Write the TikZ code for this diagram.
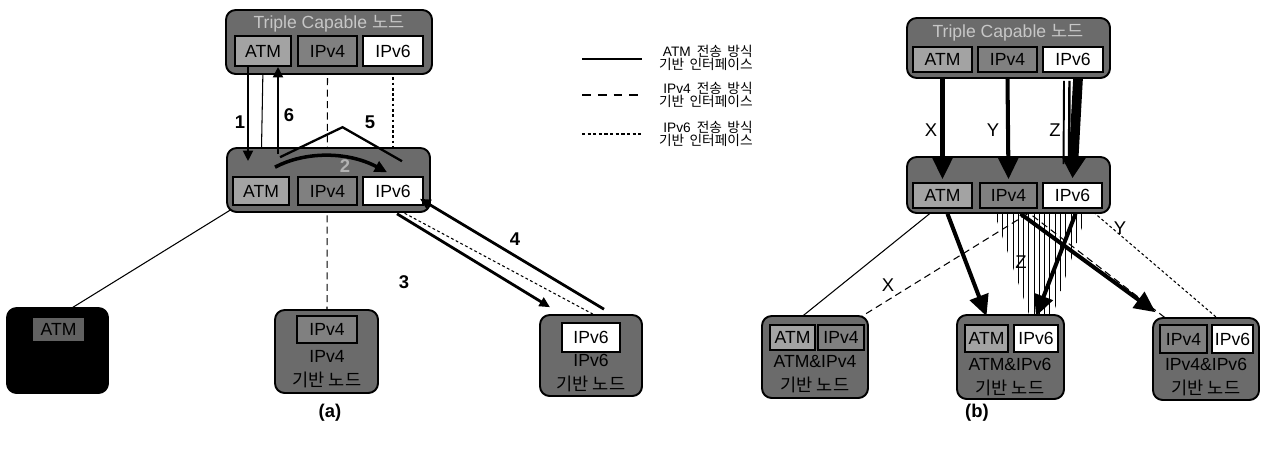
\documentclass[tikz,border=0pt]{standalone}
\usepackage{fontspec}
\setmainfont{Liberation Sans}
\newfontfamily\kr{Noto Sans CJK KR}
\usetikzlibrary{fit,calc,arrows.meta,patterns}
\pgfdeclarelayer{background}
\pgfsetlayers{background,main}
\begin{document}
\begin{tikzpicture}[x=0.02cm,y=-0.02cm,
  outer/.style={draw=black, line width=1.1pt, rounded corners=5.5pt, fill=black!58, inner sep=0pt},
  sub/.style={draw=black, line width=0.9pt, inner sep=0pt},
  atmf/.style={fill=black!36},
  vfourf/.style={fill=black!50},
  vsixf/.style={fill=white},
  txt/.style={font=\fontsize{10}{12}\selectfont, text=black, inner sep=0pt},
  ttl/.style={font=\fontsize{10}{12}\selectfont, text=black!22, inner sep=0pt},
  num/.style={font=\bfseries\fontsize{10.5}{12}\selectfont, inner sep=0pt},
  xyz/.style={font=\fontsize{10.5}{12}\selectfont, inner sep=0pt},
  leg/.style={font=\fontsize{7.8}{7.8}\selectfont, align=right, inner sep=0pt, anchor=east},
  atmif/.style={line width=0.6pt},
  vfourif/.style={line width=0.6pt, dash pattern=on 4pt off 2.5pt},
  vsixif/.style={line width=0.6pt, dash pattern=on 1.6pt off 1.4pt},
  arra/.style={line width=1.6pt, -{Triangle[length=6pt,width=5.5pt]}},
  arrb/.style={line width=2.3pt, -{Triangle[length=12pt,width=11pt]}},
  ]
\useasboundingbox (0,0) rectangle (1263,453);

% ---------------- panel (a) ----------------
\node[outer, fit={(226,10) (432,74)}] (a0) {};
\node[ttl] (a0t) at (329,24) {Triple Capable {\kr 노드}};
\node[sub, atmf, fit={(235,36) (291,66)}, label={[txt]center:ATM}] (a0atm) {};
\node[sub, vfourf, fit={(298,36) (357,66)}, label={[txt]center:IPv4}] (a0v4) {};
\node[sub, vsixf, fit={(363,36) (423,66)}, label={[txt]center:IPv6}] (a0v6) {};

\node[outer, fit={(227,148) (430,212)}] (a1) {};
\node[sub, atmf, fit={(233,177) (289,205)}, label={[txt]center:ATM}] (a1atm) {};
\node[sub, vfourf, fit={(298,177) (357,205)}, label={[txt]center:IPv4}] (a1v4) {};
\node[sub, vsixf, fit={(363,177) (423,205)}, label={[txt]center:IPv6}] (a1v6) {};

\node[outer, fill=black, fit={(7,308) (108,393)}] (aL) {};
\node[sub, fill=black!62, fit={(32,317) (85,342)}, label={[txt]center:ATM}] (aLatm) {};
\node[txt, text=black, align=center] (aLt) at (57,369) {ATM\\[2pt]{\kr 기반 노드}};

\node[outer, fit={(275,310) (378,393)}] (aM) {};
\node[sub, vfourf, fit={(297,316) (357,343)}, label={[txt]center:IPv4}] (aMv4) {};
\node[txt, align=center] (aMt) at (327,369) {IPv4\\[2pt]{\kr 기반 노드}};

\node[outer, fit={(540,315) (642,396)}] (aR) {};
\node[sub, vsixf, fit={(562,323) (620,352)}, label={[txt]center:IPv6}] (aRv6) {};
\node[txt, align=center] (aRt) at (591,373) {IPv6\\[2pt]{\kr 기반 노드}};

\begin{pgfonlayer}{background}
  \draw[atmif] (a0atm.south) -- (a1atm.north);
  \draw[vfourif] (a0v4.south) -- (aMv4.north);
  \draw[vsixif] (a0v6.south) -- (a1v6.north);
  \draw[atmif] ($(a1atm.south west)+(5,0)$) -- (aLatm.north);
  \draw[vsixif] ($(a1v6.south)+(7,5)$) -- ($(aRv6.north)+(4,-7)$);
\end{pgfonlayer}

\draw[arra] ($(a0atm.south)+(-15,0)$) -- ($(a1atm.north)+(-13,-15)$);
\draw[arra] ($(a1atm.north)+(17,-22)$) -- ($(a0atm.south)+(15,0)$);
\draw[line width=1.3pt] ($(a1atm.north)+(19,-19)$) -- ($(a1v4.north)+(15,-49)$) -- ($(a1v6.north)+(9,-15)$);
\draw[line width=2pt, -{Triangle[length=7pt,width=6.5pt]}] ($(a1atm.north)+(14,-9)$) .. controls ($(a1atm.north)+(44,-25)$) and ($(a1v4.north)+(20,-25)$) .. ($(a1v6.north)+(-6,-4)$);
\draw[arra] ($(a1v6.south)+(4,8)$) -- ($(aRv6.north)+(-41,-15)$);
\draw[arra] ($(aRv6.north)+(13,-13)$) -- ($(a1v6.south)+(27,-7)$);

\node[num] (n1) at (240,122) {1};
\node[num] (n6) at (289,115) {6};
\node[num] (n5) at (370,122) {5};
\node[num, text=black!30] (n2) at (345,166) {2};
\node[num] (n3) at (404,282) {3};
\node[num] (n4) at (515,239) {4};

% ---------------- legend ----------------
\coordinate (l1a) at (582,59); \coordinate (l1b) at (642,59);
\coordinate (l2a) at (582,95); \coordinate (l2b) at (642,95);
\coordinate (l3a) at (582,134); \coordinate (l3b) at (642,134);
\draw[line width=1.6pt] (l1a) -- (l1b);
\draw[line width=1.6pt, dash pattern=on 5pt off 4pt] (l2a) -- (l2b);
\draw[line width=0.7pt, dash pattern=on 1.8pt off 1.4pt] (l3a) -- (l3b);
\node[leg] (lt1) at (753,58) {ATM\, {\kr 전송\, 방식}\\{\kr 기반\, 인터페이스}};
\node[leg] (lt2) at (753,95) {IPv4\, {\kr 전송\, 방식}\\{\kr 기반\, 인터페이스}};
\node[leg] (lt3) at (753,134) {IPv6\, {\kr 전송\, 방식}\\{\kr 기반\, 인터페이스}};

% ---------------- panel (b) ----------------
\node[outer, fit={(907,18) (1110,78)}] (b0) {};
\node[ttl] (b0t) at (1008,33) {Triple Capable {\kr 노드}};
\node[sub, atmf, fit={(913,47) (972,72)}, label={[txt]center:ATM}] (b0atm) {};
\node[sub, vfourf, fit={(978,47) (1037,72)}, label={[txt]center:IPv4}] (b0v4) {};
\node[sub, vsixf, fit={(1043,47) (1103,72)}, label={[txt]center:IPv6}] (b0v6) {};

\node[outer, fit={(907,157) (1110,213)}] (b1) {};
\node[sub, atmf, fit={(913,183) (972,208)}, label={[txt]center:ATM}] (b1atm) {};
\node[sub, vfourf, fit={(980,183) (1037,208)}, label={[txt]center:IPv4}] (b1v4) {};
\node[sub, vsixf, fit={(1043,183) (1102,208)}, label={[txt]center:IPv6}] (b1v6) {};

\node[outer, fit={(762,316) (868,398)}] (bL) {};
\node[sub, atmf, fit={(770,325) (815,350)}, label={[txt]center:ATM}] (bLatm) {};
\node[sub, vfourf, fit={(818,325) (864,350)}, label={[txt]center:IPv4}] (bLv4) {};
\node[txt, align=center] (bLt) at (815,374) {ATM\&IPv4\\[2pt]{\kr 기반 노드}};

\node[outer, fit={(957,315) (1064,399)}] (bM) {};
\node[sub, atmf, fit={(965,325) (1008,352)}, label={[txt]center:ATM}] (bMatm) {};
\node[sub, vsixf, fit={(1014,325) (1058,352)}, label={[txt]center:IPv6}] (bMv6) {};
\node[txt, align=center] (bMt) at (1010,377) {ATM\&IPv6\\[2pt]{\kr 기반 노드}};

\node[outer, fit={(1153,318) (1259,400)}] (bR) {};
\node[sub, vfourf, fit={(1160,325) (1207,353)}, label={[txt]center:IPv4}] (bRv4) {};
\node[sub, vsixf, fit={(1212,325) (1253,353)}, label={[txt]center:IPv6}] (bRv6) {};
\node[txt, align=center] (bRt) at (1206,377) {IPv4\&IPv6\\[2pt]{\kr 기반 노드}};

\begin{pgfonlayer}{background}
  \draw[atmif] ($(b1atm.south)+(-13,5)$) -- (bLatm.north);
  \draw[vfourif] ($(b1v4.south)+(19,5)$) -- ($(bLv4.north)+(8,0)$);
  \draw[vfourif] ($(b1v4.south)+(15,0)$) -- ($(bRv4.north)+(-10,0)$);
  \draw[vsixif] ($(b1v6.south)+(17,0)$) -- ($(bRv6.north)+(-8,0)$);
  \fill[pattern=vertical lines] ($(b1v4.south)+(-14,5)$) -- ($(b1v6.south)+(14,5)$) -- ($(bMv6.north)+(16,-7)$) -- ($(bMv6.north)+(-6,-7)$) -- cycle;
\end{pgfonlayer}

% X Y Z arrows from top
\draw[arrb] ($(b0atm.south)+(0,6)$) -- ($(b1atm.north)+(0,-3)$);
\draw[arrb] ($(b0v4.south)+(0,6)$) -- ($(b1v4.north)+(0,-3)$);
\draw[line width=1.1pt] ($(b0v6.south)+(-9,8)$) -- ($(b1v6.north)+(-9,-18)$);
\draw[line width=1.4pt] ($(b0v6.south)+(-3.5,8)$) -- ($(b1v6.north)+(-3.5,-18)$);
\draw[line width=5.5pt, -{Triangle[length=12pt,width=13pt]}] ($(b0v6.south)+(5,6)$) -- ($(b1v6.north)+(0,-4)$);

\draw[arrb] ($(b1atm.south)+(5,5)$) -- ($(bMatm.north)+(0,-8)$);
\draw[arrb] ($(b1v6.south)+(3,5)$) -- ($(bMv6.north)+(0,-8)$);
\draw[arrb] ($(b1v4.south)+(12,5)$) -- ($(bRv4.north)+(-28,-12)$);

\node[xyz] (lx1) at (931,130) {X};
\node[xyz] (ly1) at (993,130) {Y};
\node[xyz] (lz1) at (1055,130) {Z};
\node[xyz] (lx2) at (888,285) {X};
\node[xyz] (lz2) at (1021,262) {Z};
\node[xyz] (ly2) at (1120,228) {Y};

\node[num] (capa) at (330,413) {(a)};
\node[num] (capb) at (977,413) {(b)};
\end{tikzpicture}
\end{document}
